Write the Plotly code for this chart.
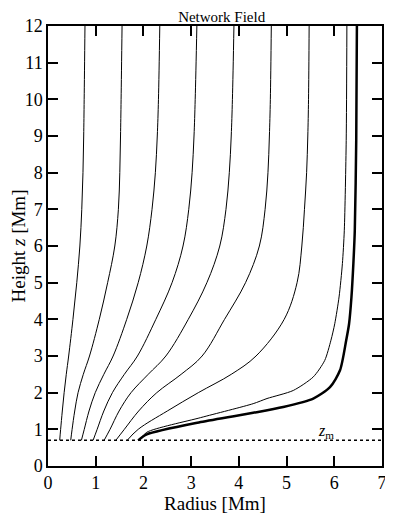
import plotly.graph_objects as go

# shared heights (Mm) for the thin field lines 1-7
z_common = [0.7, 1.0, 1.5, 2.0, 2.5, 3.0, 4.0, 5.0, 6.0, 7.0, 8.0, 9.0, 10.0, 12.0]

r_line1 = [0.245, 0.265, 0.30, 0.338, 0.383, 0.433, 0.523, 0.603, 0.668, 0.708, 0.733, 0.748, 0.758, 0.775]
r_line2 = [0.476, 0.505, 0.56, 0.63, 0.74, 0.87, 1.075, 1.25, 1.40, 1.475, 1.505, 1.52, 1.532, 1.552]
r_line3 = [0.70, 0.76, 0.86, 0.99, 1.17, 1.365, 1.65, 1.89, 2.07, 2.18, 2.25, 2.29, 2.315, 2.343]
r_line4 = [0.945, 1.03, 1.17, 1.35, 1.60, 1.875, 2.26, 2.60, 2.83, 2.95, 3.02, 3.06, 3.085, 3.12]
r_line5 = [1.176, 1.30, 1.49, 1.74, 2.10, 2.47, 2.94, 3.33, 3.60, 3.73, 3.80, 3.84, 3.865, 3.897]
r_line6 = [1.421, 1.60, 1.90, 2.28, 2.79, 3.23, 3.70, 4.14, 4.43, 4.55, 4.61, 4.64, 4.66, 4.68]
r_line7 = [1.659, 1.89, 2.50, 3.15, 3.84, 4.36, 4.95, 5.22, 5.32, 5.375, 5.42, 5.445, 5.46, 5.473]

# line 8 (thin, next to the boundary)
r_line8 = [1.91, 2.07, 3.2, 4.3, 4.59, 5.14, 5.56, 5.80, 5.93, 6.01, 6.10, 6.17, 6.21, 6.25, 6.264]
z_line8 = [0.70, 0.92, 1.32, 1.70, 1.84, 2.06, 2.43, 2.88, 3.43, 3.88, 4.61, 5.52, 6.43, 8.88, 12.0]

# thick boundary line
r_bound = [1.89, 2.07, 3.2, 4.3, 4.93, 5.56, 5.91, 6.12, 6.25, 6.31, 6.36, 6.40, 6.43, 6.46, 6.474]
z_bound = [0.70, 0.865, 1.20, 1.45, 1.61, 1.84, 2.15, 2.61, 3.43, 3.88, 4.61, 5.52, 6.43, 8.88, 12.0]

z_m = 0.7
x_range = [0, 7]

FONT = "Liberation Serif"

fig = go.Figure()

for r in [r_line1, r_line2, r_line3, r_line4, r_line5, r_line6, r_line7]:
    fig.add_trace(go.Scatter(x=r, y=z_common, mode="lines",
                             line=dict(color="black", width=1, shape="spline", smoothing=1.0),
                             showlegend=False, hoverinfo="skip"))

fig.add_trace(go.Scatter(x=r_line8, y=z_line8, mode="lines",
                         line=dict(color="black", width=1, shape="spline", smoothing=0.7),
                         showlegend=False, hoverinfo="skip"))
fig.add_trace(go.Scatter(x=r_bound, y=z_bound, mode="lines",
                         line=dict(color="black", width=2.5, shape="spline", smoothing=0.7),
                         showlegend=False, hoverinfo="skip"))

# z_m level
fig.add_trace(go.Scatter(x=x_range, y=[z_m, z_m], mode="lines",
                         line=dict(color="black", width=1.5, dash="dot"),
                         showlegend=False, hoverinfo="skip"))

fig.add_annotation(x=5.82, y=z_m + 0.24, text="<i>z</i><sub>m</sub>", showarrow=False,
                   font=dict(family=FONT, size=16, color="black"))

axis_style = dict(showline=True, linecolor="black", linewidth=1.5, mirror="ticks",
                  ticks="inside", ticklen=10, tickwidth=1.5, tickcolor="black",
                  showgrid=False, zeroline=False, dtick=1, automargin=False,
                  tickfont=dict(family=FONT, size=18, color="black"))

fig.update_xaxes(range=[0, 7], title=dict(text="Radius [Mm]", font=dict(family=FONT, size=19, color="black"), standoff=3),
                 **axis_style)
fig.update_yaxes(range=[0, 12], title=dict(text="Height <i>z</i> [Mm]", font=dict(family=FONT, size=19, color="black"), standoff=2),
                 **axis_style)

# the page puts an 8 px body margin around the figure
fig.update_layout(
    width=385, height=509,
    margin=dict(l=40, r=11, t=18, b=51),
    plot_bgcolor="white", paper_bgcolor="white",
    title=dict(text="Network Field", x=0.555, xanchor="center", y=0.994, yanchor="top",
               font=dict(family=FONT, size=15, color="black")),
)

fig.write_html("out.html")
